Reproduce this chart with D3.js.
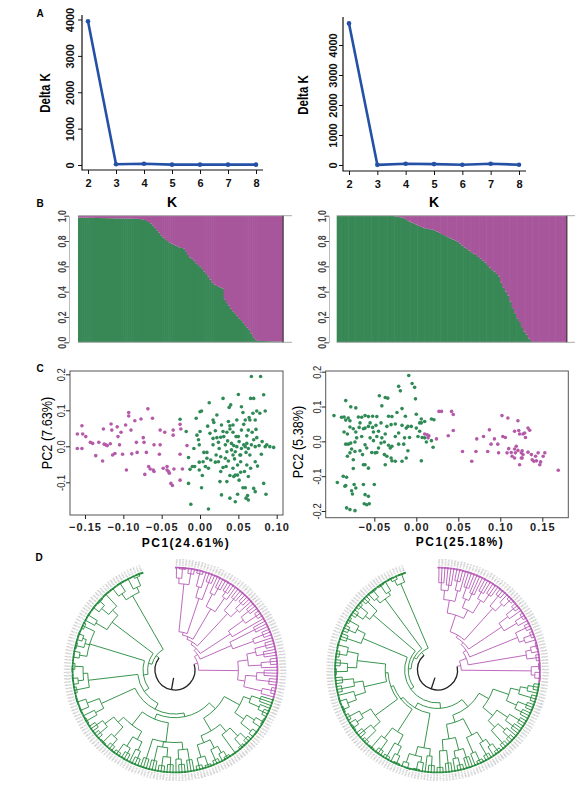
<!DOCTYPE html>
<html>
<head>
<meta charset="utf-8">
<script src="https://cdn.jsdelivr.net/npm/d3@7/dist/d3.min.js"></script>
<style>
  body { margin: 0; background: #fff; }
  svg { display: block; }
</style>
</head>
<body>
<script>
// ---------------- data ----------------
const K_VALUES = [2, 3, 4, 5, 6, 7, 8];
const DELTA_K_LEFT = [3950, 20, 35, 10, 10, 10, 10];
const DELTA_K_RIGHT = [4720, 5, 40, 30, 10, 40, 10];
const DELTA_K_TICKS = [0, 1000, 2000, 3000, 4000];

// membership (green share) per individual, sorted
const Q_TICKS = [0, 0.2, 0.4, 0.6, 0.8, 1.0];
const Q_LEFT = [
  0.985, 0.985, 0.984, 0.984, 0.984, 0.983, 0.983, 0.983, 0.982, 0.982,
  0.982, 0.981, 0.981, 0.981, 0.980, 0.980, 0.980, 0.979, 0.979, 0.979,
  0.978, 0.978, 0.978, 0.977, 0.977, 0.977, 0.976, 0.976, 0.975, 0.975,
  0.973, 0.970, 0.966, 0.958, 0.950, 0.938, 0.922, 0.905, 0.885, 0.866,
  0.845, 0.828, 0.815, 0.800, 0.790, 0.780, 0.770, 0.765, 0.758, 0.750,
  0.745, 0.740, 0.720, 0.690, 0.670, 0.660, 0.645, 0.625, 0.610, 0.600,
  0.580, 0.560, 0.540, 0.520, 0.495, 0.470, 0.455, 0.445, 0.440, 0.432,
  0.425, 0.340, 0.310, 0.290, 0.265, 0.245, 0.230, 0.210, 0.190, 0.175,
  0.155, 0.135, 0.115, 0.100, 0.070, 0.040, 0.020, 0.012, 0.011, 0.010,
  0.010, 0.009, 0.009, 0.008, 0.008, 0.007, 0.007, 0.006, 0.006, 0.005
];
const Q_RIGHT = [
  1, 1, 1, 1, 1, 1, 1, 1, 1, 1, 1, 1, 1, 1, 1, 1, 1, 1, 1, 1, 1, 1, 1, 1,
  0.998, 0.995, 0.992, 0.988, 0.984, 0.975, 0.965, 0.955, 0.945, 0.940,
  0.930, 0.920, 0.912, 0.906, 0.900, 0.896, 0.893, 0.890, 0.885, 0.875,
  0.865, 0.855, 0.847, 0.838, 0.830, 0.820, 0.812, 0.805, 0.795, 0.780,
  0.765, 0.750, 0.738, 0.725, 0.712, 0.700, 0.690, 0.675, 0.660, 0.645,
  0.630, 0.610, 0.590, 0.570, 0.560, 0.540, 0.520, 0.470, 0.430, 0.400,
  0.370, 0.320, 0.270, 0.230, 0.190, 0.160, 0.120, 0.085, 0.060, 0.030,
  0.010, 0, 0, 0, 0, 0, 0, 0, 0, 0, 0, 0, 0, 0, 0, 0
];

// PCA scores [PC1, PC2]
const PC1_TICKS_LEFT = [-0.15, -0.10, -0.05, 0, 0.05, 0.10];
const PC2_TICKS_LEFT = [-0.1, 0, 0.1, 0.2];
const PC1_TICKS_RIGHT = [-0.05, 0, 0.05, 0.10, 0.15];
const PC2_TICKS_RIGHT = [-0.2, -0.1, 0, 0.1, 0.2];

const PCA_LEFT_PURPLE = [
  [-0.160, 0.034], [-0.154, 0.057], [-0.153, 0.034], [-0.160, -0.006], [-0.154, -0.006],
  [-0.149, 0.027], [-0.143, 0.011], [-0.140, 0.008], [-0.136, -0.026], [-0.132, 0.011],
  [-0.126, 0.048], [-0.127, -0.041], [-0.125, 0.006], [-0.123, 0.004], [-0.121, 0.002],
  [-0.117, 0.007], [-0.116, 0.062], [-0.115, 0.045], [-0.114, -0.024], [-0.111, -0.020],
  [-0.105, 0.004], [-0.107, 0.027], [-0.108, 0.054], [-0.103, 0.039], [-0.101, -0.022],
  [-0.096, -0.066], [-0.097, 0.059], [-0.093, 0.094], [-0.093, 0.084], [-0.090, 0.045],
  [-0.089, -0.021], [-0.085, 0.071], [-0.083, 0.011], [-0.082, -0.017], [-0.077, 0.076],
  [-0.074, 0.024], [-0.073, 0.011], [-0.070, -0.017], [-0.072, -0.078], [-0.068, 0.104],
  [-0.062, 0.078], [-0.067, -0.056], [-0.065, -0.063], [-0.061, -0.066], [-0.060, -0.070],
  [-0.060, 0.004], [-0.052, 0.045], [-0.053, -0.022], [-0.046, 0.039], [-0.043, -0.056],
  [-0.043, -0.066], [-0.041, -0.070], [-0.040, -0.075], [-0.038, -0.103], [-0.036, -0.109],
  [-0.035, 0.045], [-0.035, 0.031], [-0.034, -0.063], [-0.026, -0.022], [-0.026, 0.061],
  [-0.025, 0.048], [-0.023, -0.063], [-0.026, -0.094], [-0.017, 0.002], [-0.048, -0.061],
  [-0.052, 0.004]
];
const PCA_LEFT_GREEN = [
  [-0.026, 0.075], [-0.018, 0.041], [-0.015, -0.031], [-0.013, -0.064], [-0.015, -0.103],
  [-0.012, -0.161], [-0.010, -0.056], [-0.008, -0.006], [-0.007, -0.056], [-0.005, 0.078],
  [-0.004, 0.031], [-0.002, 0.018], [-0.001, 0.004], [0.000, 0.041], [0.000, 0.096],
  [0.002, 0.098], [-0.001, -0.066], [0.002, -0.115], [0.003, -0.081], [0.005, -0.017],
  [0.007, -0.056], [0.009, -0.017], [0.010, 0.056], [0.012, 0.121], [0.011, -0.061],
  [0.011, -0.174], [0.013, 0.036], [0.014, -0.038], [0.017, 0.022], [0.017, 0.073],
  [0.018, 0.066], [0.017, 0.004], [0.020, 0.043], [0.020, -0.044], [0.022, 0.024],
  [0.022, 0.087], [0.024, -0.043], [0.025, -0.006], [0.027, -0.029], [0.028, 0.059],
  [0.030, 0.041], [0.030, 0.133], [0.031, 0.027], [0.033, 0.004], [0.034, -0.056],
  [0.035, -0.015], [0.036, 0.015], [0.037, 0.069], [0.038, 0.108], [0.039, 0.057],
  [0.039, -0.081], [0.040, 0.115], [0.041, 0.008], [0.041, -0.010], [0.043, -0.061],
  [0.043, 0.039], [0.043, -0.024], [0.044, -0.084], [0.046, -0.015], [0.047, 0.027],
  [0.048, 0.073], [0.049, -0.080], [0.050, 0.144], [0.050, 0.027], [0.051, 0.013],
  [0.051, -0.094], [0.052, -0.024], [0.053, -0.043], [0.053, -0.072], [0.054, 0.110],
  [0.054, 0.045], [0.056, 0.094], [0.057, 0.061], [0.057, 0.004], [0.058, -0.070],
  [0.059, 0.073], [0.060, -0.017], [0.060, -0.144], [0.061, 0.029], [0.061, -0.052],
  [0.062, -0.137], [0.063, 0.045], [0.063, -0.084], [0.064, 0.080], [0.065, 0.073],
  [0.066, -0.061], [0.066, 0.133], [0.067, 0.194], [0.067, 0.004], [0.069, 0.092],
  [0.070, 0.018], [0.070, 0.133], [0.072, 0.073], [0.072, -0.043], [0.073, 0.047],
  [0.074, 0.098], [0.074, 0.024], [0.075, -0.055], [0.078, 0.092], [0.079, 0.194],
  [0.080, -0.022], [0.081, 0.013], [0.083, 0.143], [0.083, -0.103], [0.085, 0.098],
  [0.085, -0.001], [0.086, -0.133], [0.087, 0.004], [0.091, -0.001], [0.096, -0.003],
  [0.039, 0.048], [0.043, 0.059], [0.044, 0.002], [0.048, -0.001], [0.049, -0.052],
  [0.056, -0.115], [0.059, -0.115], [0.049, -0.133], [0.046, -0.154], [0.039, -0.144],
  [0.028, -0.135], [0.026, -0.098], [0.035, -0.098], [0.037, -0.041], [0.059, -0.001],
  [0.063, -0.006], [0.065, -0.024], [0.046, -0.080], [0.070, -0.117], [0.072, -0.126],
  [0.063, -0.149], [0.035, 0.039], [0.027, 0.025], [0.024, 0.011], [0.009, -0.033],
  [-0.001, -0.044], [0.004, -0.043], [0.021, -0.024], [0.027, -0.070], [0.030, -0.059],
  [0.033, -0.033], [0.045, -0.035], [0.053, -0.024], [0.068, 0.039], [0.077, 0.002],
  [0.072, -0.001], [0.061, 0.008], [0.054, -0.006]
];
const PCA_RIGHT_GREEN = [
  [-0.098, 0.074], [-0.084, 0.117], [-0.086, 0.070], [-0.089, 0.069], [-0.084, 0.061],
  [-0.081, 0.067], [-0.079, 0.059], [-0.078, 0.099], [-0.072, 0.096], [-0.069, 0.070],
  [-0.065, 0.069], [-0.061, 0.074], [-0.057, 0.071], [-0.052, 0.072], [-0.047, 0.071],
  [-0.044, 0.131], [-0.041, 0.102], [-0.037, 0.126], [-0.034, 0.124], [-0.033, 0.072],
  [-0.029, 0.071], [-0.023, 0.083], [-0.021, 0.158], [-0.019, 0.145], [-0.017, 0.094],
  [-0.013, 0.072], [-0.009, 0.189], [-0.005, 0.166], [-0.002, 0.155], [-0.001, 0.122],
  [0.000, 0.078], [0.004, 0.053], [0.006, 0.064], [0.018, 0.064], [0.021, 0.062],
  [-0.086, 0.027], [-0.082, 0.021], [-0.079, 0.041], [-0.075, 0.036], [-0.072, 0.027],
  [-0.068, 0.040], [-0.063, 0.036], [-0.061, 0.038], [-0.057, 0.043], [-0.052, 0.040],
  [-0.048, 0.046], [-0.042, 0.053], [-0.035, 0.043], [-0.030, 0.048], [-0.025, 0.050],
  [-0.017, 0.046], [-0.012, 0.038], [-0.010, 0.043], [-0.006, 0.043], [0.000, 0.038],
  [0.006, 0.053], [0.010, 0.057], [-0.084, -0.008], [-0.081, -0.008], [-0.078, -0.005],
  [-0.073, -0.002], [-0.071, 0.010], [-0.065, 0.014], [-0.061, -0.010], [-0.055, 0.010],
  [-0.051, 0.002], [-0.047, 0.014], [-0.042, -0.005], [-0.038, -0.002], [-0.033, -0.011],
  [-0.029, -0.014], [-0.025, 0.014], [-0.021, -0.008], [-0.015, -0.008], [-0.014, 0.010],
  [-0.008, 0.011], [0.002, 0.014], [0.004, 0.029], [0.007, 0.011], [0.010, 0.010],
  [0.012, -0.002], [0.018, 0.002], [0.020, -0.017], [-0.082, -0.043], [-0.079, -0.033],
  [-0.077, -0.022], [-0.073, -0.029], [-0.067, -0.027], [-0.064, -0.038], [-0.059, -0.019],
  [-0.053, -0.032], [-0.047, -0.032], [-0.045, -0.019], [-0.038, -0.038], [-0.035, -0.043],
  [-0.031, -0.019], [-0.030, -0.048], [-0.029, -0.056], [-0.037, -0.067], [-0.025, -0.057],
  [-0.017, -0.057], [-0.012, -0.048], [-0.010, -0.027], [0.006, -0.056], [-0.063, -0.067],
  [-0.061, -0.067], [-0.075, -0.053], [-0.087, -0.100], [-0.083, -0.103], [-0.094, -0.118],
  [-0.084, -0.127], [-0.074, -0.124], [-0.072, -0.134], [-0.076, -0.151], [-0.077, -0.142],
  [-0.063, -0.124], [-0.050, -0.124], [-0.061, -0.153], [-0.057, -0.158], [-0.062, -0.179],
  [-0.059, -0.182], [-0.056, -0.179], [-0.083, -0.191], [-0.079, -0.196], [-0.073, -0.199],
  [-0.075, -0.078], [-0.085, -0.129], [-0.057, -0.077], [-0.049, -0.033], [-0.055, 0.053],
  [-0.067, 0.053], [-0.045, 0.029], [-0.037, 0.021], [-0.021, 0.024], [-0.041, 0.010],
  [-0.051, 0.027]
];
const PCA_RIGHT_PURPLE = [
  [0.010, 0.021], [0.013, 0.019], [0.015, 0.016], [0.014, 0.010], [0.024, 0.007],
  [0.027, 0.086], [0.030, 0.086], [0.038, 0.016], [0.042, 0.086], [0.044, 0.077],
  [0.044, 0.031], [0.055, -0.029], [0.066, -0.057], [0.071, -0.029], [0.072, 0.007],
  [0.080, 0.014], [0.085, -0.029], [0.087, 0.033], [0.089, -0.008], [0.093, 0.007],
  [0.097, -0.008], [0.098, -0.033], [0.102, 0.074], [0.103, 0.014], [0.106, 0.011],
  [0.109, 0.067], [0.110, -0.021], [0.113, -0.032], [0.114, -0.043], [0.117, 0.029],
  [0.118, -0.033], [0.119, -0.014], [0.121, -0.026], [0.121, 0.059], [0.122, 0.031],
  [0.123, 0.021], [0.125, -0.048], [0.126, -0.027], [0.127, 0.021], [0.127, -0.038],
  [0.129, 0.024], [0.130, 0.011], [0.133, 0.038], [0.133, -0.031], [0.135, 0.032],
  [0.137, -0.038], [0.138, -0.053], [0.140, -0.057], [0.142, -0.043], [0.143, -0.056],
  [0.145, -0.033], [0.147, -0.067], [0.148, -0.059], [0.151, -0.043], [0.153, -0.033],
  [0.169, -0.083], [0.108, -0.033], [0.117, -0.022], [0.125, -0.033], [0.117, -0.048],
  [0.123, -0.067], [0.126, -0.048]
];

// neighbour-joining trees (branch lengths in % of root-to-tip distance)
const TREE_LEFT = `(
  (
    (((((
      ((,(,,):10):6,(,,):12):52,
      (((,,):14,):12,(,,):20):40
    ):3,
      ((,(,,):8):15,((,,):6,):18):38
    ):3,
      ((,,):16,((,,):8,):10):48
    ):3,
      (((,,):10,(,,):14):20,):39
    ):3,
      ((,,):30,((,,):12,):24):37
    ):4,
    (
      (((,,):12,(,,):8):10,((,,):10,):14):11,
      (((,,):8,(,,):14):12,((,,):10,):20):8
    ):43
  ):4,
  (((((
    (
      (
        (((,,):10,(,(,,):6):12):8,(((,,):8,):10,((,,):6,):14):12):19,
        ((((,,):8,(,,):10):12,(,,):24):10,((((,,):6,):8,(,,):12):10,((,,):10,(,,):8):14):8):16
      ):9,
      (
        (((,,):12,((,,):6,):10):8,(((,,):8,(,,):10):10,(,,):16):6,(,,):22):21,
        ((((,,):8,):10,((,,):6,(,,):10):12):10,(((,,):8,(,,):12):14,((,,):10,(,,):8):12):8):18
      ):6
    ):4,
    (((,,):12,):10,((,,):16,(,(,,):7):10):14):40
  ):7,
    ((,,):14,((,(,,):8):6,((,,):6,):9):5):54
  ):6,
    (((,,):6,):8,((,,):8,(,(,,):7):4):5,(,,):12):62
  ):5,
    ((,(,,):12):14,(((,,):8,(,,):6):10,(,,):18):8):56
  ):4,
    (((,,):10,(,,):14):8,((,,):12,(,(,,):6):10):6):67
  ):4
);`;

const TREE_RIGHT = `(
  (((((
    ((((,,):8,(,,):6):10,((,,):10,):12):14,(((,,):12,(,,):8):10,((,,):8,(,,):10):16):10):19,
    ((,,):14,(,(,,):8):10):46
  ):3,
    (((,,):10,):12,((,,):8,):16):43
  ):3,
    ((,,):12,((,,):8,):6):56
  ):4,
    (((,,):6,):6,(,,):10):64
  ):8,
    ((,,):8,(,(,,):6):4):76
  ):4,
  ((((
    (
      (
        (((((,,):6,):8,(,,):14):10,((,,):10,(,,):8):12):18,
         (((,,):12,(,,):10):14,((,(,,):8):10,(,,):18):10):14):12,
        (((((,,):8,):8,(,,):14):12,((,,):10,):18):20,
         (((,,):10,((,,):8,):8):14,((,,):14,(,,):18):12):16):8
      ):10,
      ((((,,):10,):8,((,(,,):8):6,((,,):6,):10):10):38,
       (((((,,):8,):10,(,,):16):12,((,,):12,(,,):16):14):29,
        ((((,,):14,(,,):10):10,(((,,):6,):8,(,,):12):12):30,
         (((((,,):6,(,,):8):10,):12,((,,):14,(,,):12):10):25,
          (((,,):12,(,,):8):10,((,,):8,(,,):14):12):31):3):3):3):6
    ):6,
    ((,,):16,((,,):8,(,,):11):10):52
  ):4,
    (((,,):8,(,,):10):6,(,,):14):60
  ):3,
    ((,(,,):8):6,((,,):10,):4):67
  ):3,
    (((,,):5,):6,(,,):9):76
  ):4
);`;

(function() {
  'use strict';

  const SANS = "'Liberation Sans', Arial, sans-serif";
  const NARROW = "'Liberation Sans Narrow', 'Arial Narrow', 'Liberation Sans', sans-serif";
  const SQUEEZE = 0.82; // condensed look for the axis titles
  const BLUE = '#2451a6';
  const BAR_GREEN = '#388856', BAR_PURPLE = '#a8569c';
  const DOT_GREEN = '#2f8a55', DOT_PURPLE = '#b45aa9';
  const TREE_GREEN = '#23893a', TREE_PURPLE = '#b55ab5';

  const svg = d3.select('body').append('svg')
    .attr('width', 586)
    .attr('height', 792)
    .style('font-family', SANS);

  // Panel letters
  const letters = [['A', 40, 13], ['B', 40, 203], ['C', 40, 368], ['D', 39, 557]];
  svg.selectAll('text.letter').data(letters).join('text')
    .attr('class', 'letter')
    .attr('x', d => d[1]).attr('y', d => d[2]).attr('dy', '0.35em')
    .attr('text-anchor', 'middle')
    .attr('font-size', 10).attr('font-weight', 'bold')
    .text(d => d[0]);

  function vtext(g, str, x, y, size, weight) {
    return g.append('text')
      .attr('transform', `translate(${x},${y}) rotate(-90) scale(${SQUEEZE},1)`)
      .attr('text-anchor', 'middle').attr('dy', '0.35em')
      .attr('font-size', size).attr('font-family', NARROW)
      .attr('font-weight', weight || 'normal')
      .text(str);
  }

  function rotateTicks(axisG, dx, sx) {
    axisG.selectAll('.tick text')
      .attr('x', null).attr('dy', '0.35em')
      .attr('text-anchor', 'middle')
      .attr('transform', `translate(${dx},0) rotate(-90) scale(${sx || 1},1)`);
  }

  // ---------- A: Delta K ----------
  function drawDeltaK(values, cfg) {
    const g = svg.append('g');
    const x = d3.scaleLinear([2, 8], cfg.xr);
    const y = d3.scaleLinear([0, 4000], cfg.yr);

    g.append('path')
      .attr('d', `M${cfg.l},${cfg.t}V${cfg.b}H${cfg.r}`)
      .attr('fill', 'none').attr('stroke', '#111').attr('stroke-width', 1.2);

    const ya = g.append('g').attr('transform', `translate(${cfg.l},0)`)
      .call(d3.axisLeft(y).tickValues(DELTA_K_TICKS).tickSize(4).tickFormat(d3.format('d')));
    ya.select('.domain').remove();
    ya.attr('font-size', 11).attr('font-weight', 'bold').attr('font-family', SANS).attr('color', '#111');
    rotateTicks(ya, cfg.labelX - cfg.l);

    const xa = g.append('g').attr('transform', `translate(0,${cfg.b})`)
      .call(d3.axisBottom(x).tickValues(K_VALUES).tickSize(4).tickFormat(d3.format('d')));
    xa.select('.domain').remove();
    xa.attr('font-size', 11).attr('font-weight', 'bold').attr('font-family', SANS).attr('color', '#111');
    xa.selectAll('.tick text').attr('y', 13).attr('dy', '0.35em');

    const line = d3.line().x((d, i) => x(K_VALUES[i])).y(d => y(d));
    g.append('path').datum(values)
      .attr('d', line)
      .attr('fill', 'none').attr('stroke', BLUE).attr('stroke-width', 2.6)
      .attr('stroke-linejoin', 'round');
    g.selectAll('circle').data(values).join('circle')
      .attr('cx', (d, i) => x(K_VALUES[i])).attr('cy', d => y(d))
      .attr('r', 2.3).attr('fill', BLUE);

    g.append('text').attr('x', (cfg.xr[0] + cfg.xr[1]) / 2).attr('y', 202)
      .attr('dy', '0.35em').attr('text-anchor', 'middle')
      .attr('font-size', 14).attr('font-weight', 'bold').text('K');
    vtext(g, 'Delta K', cfg.titleX, cfg.titleY, 14, 'bold');
  }

  drawDeltaK(DELTA_K_LEFT, { xr: [88, 256], yr: [165, 19.5], l: 82, t: 15, b: 170, r: 263, labelX: 70, titleX: 45, titleY: 93 });
  drawDeltaK(DELTA_K_RIGHT, { xr: [349, 519], yr: [165, 45], l: 343, t: 17, b: 171, r: 526, labelX: 333, titleX: 303, titleY: 95 });

  // ---------- B: membership bars ----------
  function drawQ(values, cfg) {
    const g = svg.append('g');
    const x = d3.scaleBand().domain(d3.range(values.length)).range([cfg.x0, cfg.x1]);
    const y = d3.scaleLinear([0, 1], [cfg.yb, cfg.yt]);
    const w = x.bandwidth() + 0.6;

    g.selectAll('rect.qg').data(values).join('rect')
      .attr('class', 'qg')
      .attr('x', (d, i) => x(i)).attr('width', w)
      .attr('y', d => y(d)).attr('height', d => y(0) - y(d))
      .attr('fill', BAR_GREEN);
    g.selectAll('rect.qp').data(values).join('rect')
      .attr('class', 'qp')
      .attr('x', (d, i) => x(i)).attr('width', w)
      .attr('y', y(1)).attr('height', d => y(d) - y(1))
      .attr('fill', BAR_PURPLE);

    g.append('path').attr('d', `M${cfg.x0},${cfg.yt}H${cfg.lineEnd}M${cfg.x0},${cfg.yb}H${cfg.lineEnd}`)
      .attr('stroke', '#aaa').attr('stroke-width', 1);
    g.append('path').attr('d', `M${cfg.x1},${cfg.yt}V${cfg.yb}`)
      .attr('stroke', '#444').attr('stroke-width', 1.2);

    const ya = g.append('g').attr('transform', `translate(${cfg.axisX},0)`)
      .call(d3.axisLeft(y).tickValues(Q_TICKS).tickSize(3).tickSizeOuter(0).tickFormat(d3.format('.1f')));
    ya.attr('font-size', 10.5).attr('font-family', NARROW).attr('font-weight', 'bold').attr('color', '#444');
    ya.select('.domain').attr('stroke', '#bbb');
    rotateTicks(ya, cfg.labelX - cfg.axisX, SQUEEZE);
  }

  drawQ(Q_LEFT, { x0: 78, x1: 283, yb: 342.3, yt: 215.7, lineEnd: 292, axisX: 69, labelX: 62 });
  drawQ(Q_RIGHT, { x0: 336.7, x1: 566.7, yb: 342.3, yt: 215.7, lineEnd: 575, axisX: 329, labelX: 322 });

  // ---------- C: PCA ----------
  function drawPCA(purple, green, cfg) {
    const g = svg.append('g');
    const x = d3.scaleLinear(cfg.xd, cfg.xr);
    const y = d3.scaleLinear(cfg.yd, cfg.yr);

    g.append('rect')
      .attr('x', cfg.box[0]).attr('y', cfg.box[1])
      .attr('width', cfg.box[2] - cfg.box[0]).attr('height', cfg.box[3] - cfg.box[1])
      .attr('fill', 'none').attr('stroke', '#555').attr('stroke-width', 1);

    g.selectAll('circle.p').data(purple).join('circle')
      .attr('class', 'p')
      .attr('cx', d => x(d[0])).attr('cy', d => y(d[1])).attr('r', 1.8)
      .attr('fill', DOT_PURPLE);
    g.selectAll('circle.g').data(green).join('circle')
      .attr('class', 'g')
      .attr('cx', d => x(d[0])).attr('cy', d => y(d[1])).attr('r', 1.8)
      .attr('fill', DOT_GREEN);

    const xa = g.append('g').attr('transform', `translate(0,${cfg.box[3]})`)
      .call(d3.axisBottom(x).tickValues(cfg.xt).tickSize(4).tickFormat(d3.format('.2f')));
    xa.select('.domain').remove();
    xa.attr('font-size', 11).attr('font-weight', 'bold').attr('font-family', SANS).attr('color', '#222');
    xa.selectAll('.tick text').attr('y', 527 - cfg.box[3]).attr('dy', '0.35em').attr('letter-spacing', 1);

    const ya = g.append('g').attr('transform', `translate(${cfg.box[0]},0)`)
      .call(d3.axisLeft(y).tickValues(cfg.yt).tickSize(4)
        .tickFormat(d => d3.format('.1f')(d).replace('\u2212', '-')));
    ya.select('.domain').remove();
    ya.attr('font-size', 11.5).attr('font-family', NARROW).attr('color', '#222');
    rotateTicks(ya, cfg.labelX - cfg.box[0], SQUEEZE);

    vtext(g, cfg.yTitle, cfg.yTitleXY[0], cfg.yTitleXY[1], 15.5);
    g.append('text').attr('x', cfg.xTitleXY[0]).attr('y', cfg.xTitleXY[1])
      .attr('dy', '0.35em').attr('text-anchor', 'middle')
      .attr('font-size', 12).attr('font-weight', 'bold').attr('letter-spacing', 1.5)
      .text(cfg.xTitle);
  }

  drawPCA(PCA_LEFT_PURPLE, PCA_LEFT_GREEN, {
    xd: [-0.15, 0.10], xr: [85, 276.7], yd: [-0.1, 0.2], yr: [482.3, 374.3],
    box: [70, 371, 283, 515], xt: PC1_TICKS_LEFT, yt: PC2_TICKS_LEFT, labelX: 61,
    yTitle: 'PC2 (7.63%)', yTitleXY: [47, 433], xTitle: 'PC1(24.61%)', xTitleXY: [186, 543]
  });
  drawPCA(PCA_RIGHT_PURPLE, PCA_RIGHT_GREEN, {
    xd: [-0.05, 0.15], xr: [374.3, 542.3], yd: [-0.2, 0.2], yr: [511, 371.7],
    box: [325.7, 371, 568.3, 517.7], xt: PC1_TICKS_RIGHT, yt: PC2_TICKS_RIGHT, labelX: 317,
    yTitle: 'PC2 (5.38%)', yTitleXY: [298, 442], xTitle: 'PC1(25.18%)', xTitleXY: [460, 542]
  });

  // ---------- D: circular trees ----------
  function parseNewick(src) {
    const s = src.replace(/\s+/g, '');
    let i = 0;
    function node() {
      const n = { children: null, length: 0, name: '' };
      if (s[i] === '(') {
        n.children = [];
        i++;
        n.children.push(node());
        while (s[i] === ',') { i++; n.children.push(node()); }
        i++;
      }
      let name = '';
      while (i < s.length && !',():;'.includes(s[i])) name += s[i++];
      n.name = name;
      if (s[i] === ':') {
        i++;
        let num = '';
        while (i < s.length && !',();'.includes(s[i])) num += s[i++];
        n.length = +num;
      }
      return n;
    }
    return node();
  }

  const TREE_SPAN = 342;
  const R_ROOT = 20, R_TIP = 103, R_STEM = 8;

  function drawTree(newick, cx, cy, prefix) {
    const g = svg.append('g');
    const root = d3.hierarchy(parseNewick(newick), d => d.children);
    d3.cluster().size([TREE_SPAN, 1]).separation(() => 1)(root);
    const r = d3.scaleLinear([0, 90], [R_ROOT, R_TIP]).clamp(true);
    const leaves = root.leaves();
    const step = TREE_SPAN / leaves.length;

    root.eachBefore(d => {
      d.dist = d.parent ? d.parent.dist + d.data.length : 0;
      if (d.depth === 0) d.group = 'root';
      else if (d.depth === 1) d.group = d.parent.children.indexOf(d) === 0 ? 'purple' : 'green';
      else d.group = d.parent.group;
    });
    const rad = d => d.children ? r(d.dist) : R_TIP;
    const pt = (a, rr) => {
      const t = a * Math.PI / 180;
      return [cx + rr * Math.sin(t), cy - rr * Math.cos(t)];
    };
    const arcPath = (a0, a1, rr) => {
      const p0 = pt(a0, rr), p1 = pt(a1, rr);
      const large = Math.abs(a1 - a0) > 180 ? 1 : 0;
      const sweep = a1 > a0 ? 1 : 0;
      return `M${p0[0]},${p0[1]}A${rr},${rr} 0 ${large} ${sweep} ${p1[0]},${p1[1]}`;
    };
    const color = d => d.group === 'purple' ? TREE_PURPLE : TREE_GREEN;

    root.links().forEach(lk => {
      const s = lk.source, t = lk.target;
      const rs = rad(s), rt = rad(t);
      const a = pt(t.x, rs), b = pt(t.x, rt);
      g.append('path').attr('d', arcPath(s.x, t.x, rs))
        .attr('fill', 'none')
        .attr('stroke', s.depth === 0 ? '#222' : color(t))
        .attr('stroke-width', s.depth === 0 ? 1.3 : 0.9);
      g.append('path').attr('d', `M${a[0]},${a[1]}L${b[0]},${b[1]}`)
        .attr('fill', 'none').attr('stroke', color(t))
        .attr('stroke-width', 0.9);
    });
    const s0 = pt(root.x, R_STEM), s1 = pt(root.x, R_ROOT);
    g.append('path').attr('d', `M${s0[0]},${s0[1]}L${s1[0]},${s1[1]}`)
      .attr('stroke', '#222').attr('stroke-width', 1.3);

    // tip caps: one short arc per sample at the tip radius
    g.selectAll('path.cap').data(leaves).join('path')
      .attr('class', 'cap')
      .attr('d', d => arcPath(d.x - step / 2, d.x + step / 2, R_TIP - 0.6))
      .attr('fill', 'none').attr('stroke', d => color(d)).attr('stroke-width', 1.8);

    // tip labels
    const fmt = d3.format('03');
    g.selectAll('text.tip').data(leaves).join('text')
      .attr('class', 'tip')
      .attr('transform', d => {
        const p = pt(d.x, R_TIP + 1.4);
        const flip = d.x > 180;
        return `translate(${p[0]},${p[1]}) rotate(${flip ? d.x + 90 : d.x - 90})`;
      })
      .attr('text-anchor', d => d.x > 180 ? 'end' : 'start')
      .attr('dy', '0.35em')
      .attr('font-size', 2.2)
      .attr('fill', '#8a8a8a')
      .text((d, i) => prefix + fmt(i + 1));
  }

  drawTree(TREE_LEFT, 175, 670, 'HN');
  drawTree(TREE_RIGHT, 437.5, 670, 'HN');
})();
</script>
</body>
</html>
